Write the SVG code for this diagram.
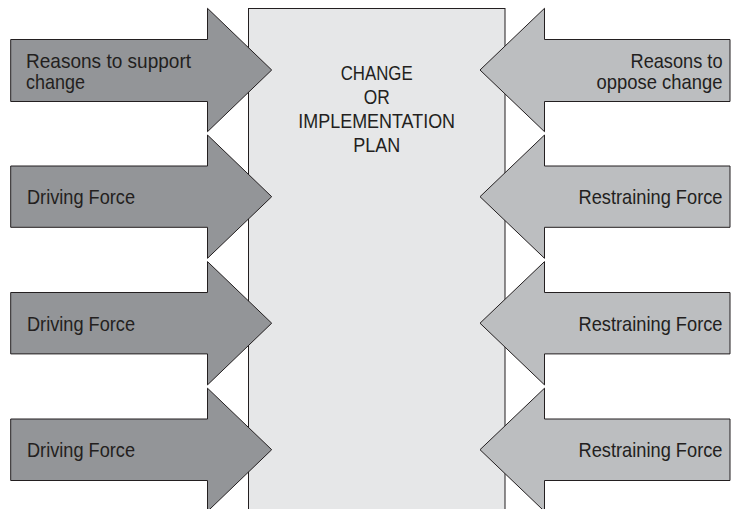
<svg xmlns="http://www.w3.org/2000/svg" width="731" height="509" viewBox="0 0 731 509">
<style>
.box{fill:#e6e7e8;stroke:#231f20;stroke-width:1}
.drive{fill:#939598;stroke:#231f20;stroke-width:1;stroke-linejoin:miter}
.restrain{fill:#bcbec0;stroke:#231f20;stroke-width:1;stroke-linejoin:miter}
text{font-family:"Liberation Sans",Arial,sans-serif;font-size:21px;fill:#231f20}
.end{text-anchor:end}
.mid{text-anchor:middle}
</style>
<rect width="731" height="509" fill="#ffffff"/>
<g id="plan">
<rect class="box" x="248.5" y="8.5" width="256.5" height="510"/>
<text class="mid" x="376.7" y="80" textLength="72" lengthAdjust="spacingAndGlyphs">CHANGE</text>
<text class="mid" x="376.7" y="103.5" textLength="26" lengthAdjust="spacingAndGlyphs">OR</text>
<text class="mid" x="376.7" y="128.3" textLength="156.7" lengthAdjust="spacingAndGlyphs">IMPLEMENTATION</text>
<text class="mid" x="376.7" y="151.7" textLength="47" lengthAdjust="spacingAndGlyphs">PLAN</text>
</g>
<g id="connectors">
<g id="drive1">
<polygon class="drive" points="10.7,39.5 207.5,39.5 207.5,8.3 271.7,70 207.5,131.7 207.5,101.5 10.7,101.5"/>
<text x="26" y="67.5" textLength="165" lengthAdjust="spacingAndGlyphs">Reasons to support</text>
<text x="26" y="88.5" textLength="59" lengthAdjust="spacingAndGlyphs">change</text>
</g>
<g id="drive2">
<polygon class="drive" points="10.7,166 207.5,166 207.5,135 271.7,196.7 207.5,258.3 207.5,227.3 10.7,227.3"/>
<text x="27" y="204" textLength="108" lengthAdjust="spacingAndGlyphs">Driving Force</text>
</g>
<g id="drive3">
<polygon class="drive" points="10.7,292.5 207.5,292.5 207.5,261.6 271.7,323.2 207.5,384.9 207.5,353.9 10.7,353.9"/>
<text x="27" y="330.5" textLength="108" lengthAdjust="spacingAndGlyphs">Driving Force</text>
</g>
<g id="drive4">
<polygon class="drive" points="10.7,419 207.5,419 207.5,388.2 271.7,449.7 207.5,511.4 207.5,480.5 10.7,480.5"/>
<text x="27" y="457" textLength="108" lengthAdjust="spacingAndGlyphs">Driving Force</text>
</g>
<g id="restrain1">
<polygon class="restrain" points="730,39.5 544.5,39.5 544.5,8.3 480,70 544.5,131.7 544.5,101.5 730,101.5"/>
<text class="end" x="722.5" y="67.5" textLength="92" lengthAdjust="spacingAndGlyphs">Reasons to</text>
<text class="end" x="722.5" y="88.5" textLength="126" lengthAdjust="spacingAndGlyphs">oppose change</text>
</g>
<g id="restrain2">
<polygon class="restrain" points="730,166 544.5,166 544.5,135 480,196.7 544.5,258.3 544.5,227.3 730,227.3"/>
<text class="end" x="722.5" y="204" textLength="144" lengthAdjust="spacingAndGlyphs">Restraining Force</text>
</g>
<g id="restrain3">
<polygon class="restrain" points="730,292.5 544.5,292.5 544.5,261.6 480,323.2 544.5,384.9 544.5,353.9 730,353.9"/>
<text class="end" x="722.5" y="330.5" textLength="144" lengthAdjust="spacingAndGlyphs">Restraining Force</text>
</g>
<g id="restrain4">
<polygon class="restrain" points="730,419 544.5,419 544.5,388.2 480,449.7 544.5,511.4 544.5,480.5 730,480.5"/>
<text class="end" x="722.5" y="457" textLength="144" lengthAdjust="spacingAndGlyphs">Restraining Force</text>
</g>
</g>
</svg>
